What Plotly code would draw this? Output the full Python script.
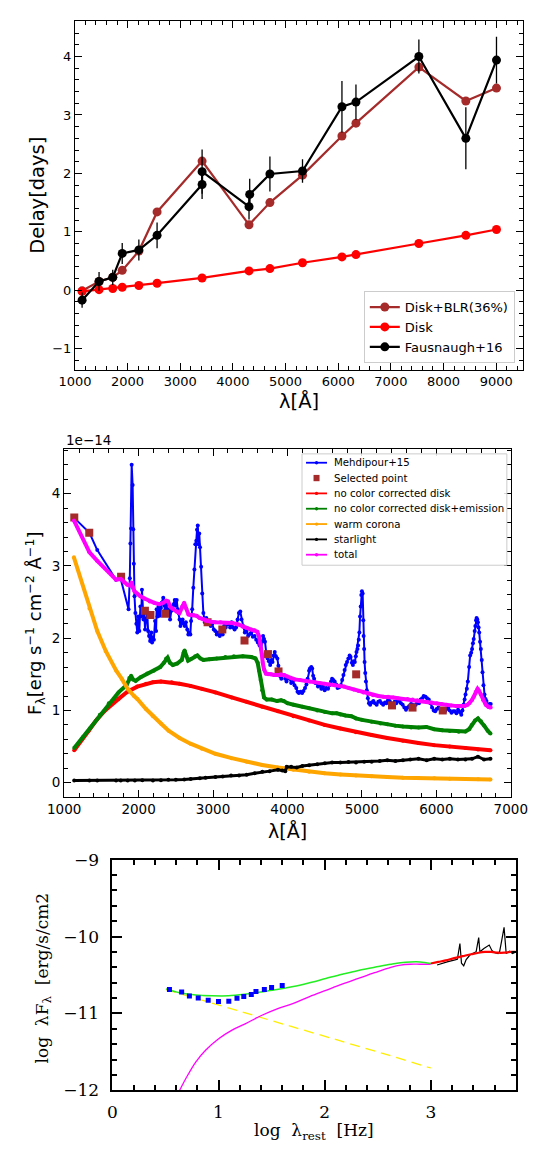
import plotly.graph_objects as go

W, H = 544, 1156

# ---------------- Panel 1: delays ----------------
lam_model = [1136, 1458, 1718, 1898, 2214, 2560, 3415, 4306, 4703, 5322, 6071, 6337, 7532, 8424, 9006]
delay_blr = [-0.01, 0.15, 0.22, 0.34, 0.67, 1.34, 2.21, 1.12, 1.50, 1.97, 2.64, 2.86, 3.82, 3.24, 3.46]
delay_disk = [-0.02, 0.01, 0.03, 0.05, 0.08, 0.12, 0.21, 0.33, 0.37, 0.47, 0.57, 0.61, 0.80, 0.94, 1.04]
lam_obs = [1136, 1458, 1718, 1898, 2214, 2560, 3415, 3415, 4306, 4319, 4703, 5322, 6071, 6337, 7532, 8424, 9006]
delay_obs = [-0.17, 0.15, 0.22, 0.63, 0.69, 0.94, 1.81, 2.03, 1.43, 1.64, 1.99, 2.04, 3.14, 3.22, 4.00, 2.60, 3.94]
delay_err = [0.13, 0.16, 0.13, 0.18, 0.18, 0.22, 0.25, 0.38, 0.22, 0.27, 0.30, 0.20, 0.44, 0.30, 0.29, 0.53, 0.40]

# ---------------- Panel 2: spectrum (units of 1e-14) ----------------
meh_x = [1131, 1340, 1445, 1697, 1760, 1865, 1882, 1890, 1899, 1907, 1920, 1928, 1936, 1945, 1957, 1970, 1982,
         1995, 2010, 2024, 2035, 2045, 2056, 2066, 2076, 2087, 2100, 2116, 2128, 2141, 2155, 2171, 2181, 2192,
         2205, 2221, 2235, 2242, 2255, 2268, 2284, 2300, 2310, 2331, 2345, 2360, 2375, 2394, 2410, 2423, 2440,
         2453, 2470, 2486, 2500, 2512, 2525, 2537, 2550, 2562, 2575, 2591, 2605, 2621, 2635, 2654, 2668, 2680,
         2695, 2705, 2720, 2735, 2750, 2762, 2775, 2785, 2795, 2805, 2815, 2825, 2840, 2855, 2870, 2890, 2910,
         2930, 2950, 2970, 2990, 3010, 3030, 3050, 3070, 3090, 3110, 3130, 3150, 3170, 3190, 3210, 3230, 3250,
         3270, 3290, 3310, 3330, 3348, 3366, 3383, 3405, 3427, 3450, 3471, 3495, 3514, 3535, 3558, 3580, 3602,
         3625, 3646, 3660, 3672, 3685, 3698, 3715, 3733, 3750, 3768, 3785, 3799, 3815, 3829, 3845, 3864, 3878,
         3891, 3905, 3917, 3935, 3952, 3970, 3987, 4010, 4031, 4050, 4074, 4095, 4118, 4135, 4153, 4175, 4197,
         4215, 4236, 4255, 4271, 4290, 4302, 4320, 4332, 4345, 4358, 4375, 4389, 4410, 4433, 4455, 4477, 4500,
         4520, 4545, 4564, 4585, 4599, 4615, 4634, 4655, 4673, 4695, 4717, 4735, 4752, 4768, 4783, 4800, 4818,
         4835, 4848, 4865, 4879, 4892, 4905, 4918, 4927, 4940, 4949, 4958, 4966, 4975, 4984, 4992, 5000, 5010,
         5018, 5023, 5030, 5036, 5045, 5054, 5065, 5080, 5095, 5111, 5130, 5154, 5175, 5198, 5220, 5242, 5265,
         5286, 5310, 5329, 5350, 5373, 5395, 5417, 5440, 5461, 5480, 5504, 5525, 5548, 5570, 5592, 5615, 5636,
         5660, 5679, 5700, 5723, 5745, 5767, 5790, 5810, 5830, 5854, 5875, 5898, 5920, 5942, 5965, 5985, 6005,
         6029, 6050, 6073, 6095, 6117, 6140, 6160, 6180, 6204, 6225, 6248, 6270, 6292, 6315, 6335, 6350, 6366,
         6380, 6392, 6410, 6423, 6440, 6454, 6468, 6480, 6492, 6502, 6515, 6524, 6533, 6541, 6550, 6559, 6568,
         6576, 6587, 6598, 6610, 6620, 6633, 6647, 6660, 6673, 6686, 6699, 6715, 6730]
meh_y = [3.67, 3.46, 3.22, 2.81, 2.82, 2.40, 2.83, 3.31, 3.52, 4.40, 4.12, 3.51, 3.03, 2.58, 2.35, 2.20, 2.08,
         2.30, 2.10, 2.44, 2.30, 2.67, 2.40, 2.26, 2.35, 2.12, 2.25, 2.35, 2.10, 2.03, 1.96, 2.08, 1.94, 2.01,
         1.98, 2.24, 2.10, 2.40, 2.30, 2.44, 2.31, 2.42, 2.49, 2.56, 2.45, 2.40, 2.47, 2.35, 2.40, 2.26, 2.38,
         2.42, 2.47, 2.53, 2.45, 2.53, 2.40, 2.35, 2.26, 2.17, 2.22, 2.26, 2.20, 2.17, 2.22, 2.12, 2.05, 2.08,
         2.05, 2.24, 2.40, 2.70, 2.95, 3.30, 3.35, 3.50, 3.56, 3.30, 3.45, 3.26, 2.99, 2.62, 2.35, 2.22, 2.28,
         2.20, 2.24, 2.17, 2.20, 2.12, 2.10, 2.05, 2.08, 2.03, 2.12, 2.05, 2.17, 2.15, 2.19, 2.20, 2.15, 2.22,
         2.15, 2.12, 2.15, 2.26, 2.35, 2.37, 2.26, 2.17, 2.08, 2.10, 2.03, 2.06, 2.08, 2.02, 2.03, 1.98, 1.94,
         1.90, 1.85, 1.95, 2.03, 1.99, 1.95, 1.80, 1.72, 1.68, 1.63, 1.70, 1.67, 1.76, 1.81, 1.75, 1.72, 1.62,
         1.53, 1.47, 1.44, 1.49, 1.49, 1.44, 1.40, 1.45, 1.44, 1.38, 1.40, 1.35, 1.31, 1.26, 1.24, 1.26, 1.24,
         1.27, 1.31, 1.36, 1.44, 1.55, 1.58, 1.60, 1.58, 1.48, 1.44, 1.38, 1.38, 1.33, 1.35, 1.30, 1.33, 1.28,
         1.31, 1.30, 1.35, 1.40, 1.44, 1.42, 1.40, 1.36, 1.31, 1.32, 1.35, 1.42, 1.49, 1.56, 1.63, 1.67, 1.72,
         1.76, 1.74, 1.66, 1.63, 1.68, 1.67, 1.75, 1.81, 1.85, 1.90, 1.98, 2.08, 2.30, 2.44, 2.60, 2.65, 2.62,
         2.25, 2.03, 1.85, 1.67, 1.52, 1.40, 1.28, 1.17, 1.10, 1.08, 1.11, 1.13, 1.10, 1.08, 1.12, 1.13, 1.10,
         1.08, 1.11, 1.10, 1.14, 1.13, 1.10, 1.08, 1.12, 1.10, 1.13, 1.13, 1.10, 1.08, 1.04, 1.01, 1.04, 1.06,
         1.09, 1.08, 1.06, 1.08, 1.11, 1.10, 1.15, 1.17, 1.20, 1.19, 1.17, 1.15, 1.10, 1.04, 1.00, 0.99, 1.02,
         1.04, 1.02, 1.01, 1.00, 0.99, 1.02, 1.04, 1.00, 0.97, 0.99, 0.99, 0.96, 1.01, 0.98, 0.94, 1.00, 1.08,
         1.15, 1.22, 1.30, 1.40, 1.60, 1.76, 1.80, 1.85, 1.93, 1.99, 2.10, 2.17, 2.25, 2.28, 2.26, 2.22, 2.15,
         2.08, 1.95, 1.85, 1.70, 1.53, 1.35, 1.22, 1.16, 1.13, 1.08, 1.07, 1.09, 1.09]

sel_x = [1136, 1337, 1765, 2085, 2159, 2356, 2927, 3125, 3423, 3738, 3880, 4923, 5404, 5680, 6086]
sel_y = [3.67, 3.46, 2.85, 2.38, 2.32, 2.34, 2.22, 2.12, 1.97, 1.78, 1.54, 1.50, 1.07, 1.04, 1.00]

disk_x = [1135, 1250, 1330, 1436, 1550, 1731, 1850, 1983, 2100, 2193, 2300, 2445, 2550, 2697, 2850, 3032,
          3250, 3452, 3660, 3872, 4080, 4292, 4500, 4711, 4920, 5131, 5340, 5551, 5760, 5971, 6180, 6391,
          6560, 6727]
disk_y = [0.45, 0.62, 0.72, 0.87, 1.00, 1.16, 1.26, 1.33, 1.37, 1.39, 1.40, 1.39, 1.37, 1.34, 1.30, 1.25,
          1.18, 1.12, 1.05, 0.99, 0.92, 0.86, 0.80, 0.75, 0.70, 0.66, 0.62, 0.58, 0.55, 0.52, 0.50, 0.48,
          0.46, 0.45]

dem_x = [1135, 1250, 1353, 1479, 1600, 1731, 1836, 1875, 1900, 1925, 1960, 2028, 2115, 2203, 2290, 2340,
         2370, 2390, 2420, 2460, 2520, 2580, 2605, 2618, 2640, 2665, 2700, 2760, 2790, 2830, 2870, 2950,
         3050, 3165, 3280, 3400, 3514, 3570, 3600, 3620, 3640, 3660, 3685, 3720, 3788, 3860, 3914, 3950,
         4000, 4082, 4200, 4292, 4400, 4502, 4600, 4660, 4711, 4780, 4858, 4921, 5000, 5131, 5250, 5341,
         5450, 5551, 5661, 5761, 5866, 5971, 6080, 6181, 6300, 6391, 6440, 6475, 6520, 6559, 6600, 6643,
         6690, 6727]
dem_y = [0.48, 0.63, 0.76, 0.94, 1.10, 1.25, 1.35, 1.45, 1.48, 1.43, 1.41, 1.46, 1.51, 1.55, 1.60, 1.66,
         1.72, 1.73, 1.66, 1.63, 1.65, 1.70, 1.80, 1.83, 1.76, 1.69, 1.71, 1.75, 1.76, 1.72, 1.70, 1.71,
         1.72, 1.74, 1.75, 1.75, 1.74, 1.72, 1.66, 1.55, 1.42, 1.28, 1.18, 1.15, 1.15, 1.13, 1.14, 1.13,
         1.10, 1.08, 1.05, 1.03, 1.00, 0.98, 0.96, 0.96, 0.945, 0.93, 0.92, 0.89, 0.87, 0.845, 0.82, 0.81,
         0.79, 0.777, 0.765, 0.763, 0.772, 0.74, 0.725, 0.717, 0.705, 0.708, 0.74, 0.80, 0.86, 0.89, 0.85,
         0.79, 0.72, 0.68]

cor_x = [1131, 1340, 1445, 1560, 1700, 1773, 1853, 1940, 1983, 2100, 2193, 2300, 2403, 2550, 2697, 2850,
         3032, 3250, 3452, 3660, 3872, 4080, 4292, 4500, 4711, 4920, 5131, 5340, 5551, 5760, 5971, 6180,
         6391, 6560, 6727]
cor_y = [3.12, 2.41, 2.10, 1.82, 1.55, 1.44, 1.30, 1.20, 1.16, 1.02, 0.92, 0.82, 0.72, 0.62, 0.54, 0.47,
         0.40, 0.34, 0.29, 0.245, 0.21, 0.18, 0.15, 0.13, 0.115, 0.10, 0.09, 0.08, 0.07, 0.065, 0.06, 0.055,
         0.05, 0.048, 0.045]

star_x = [1135, 1340, 1445, 1697, 1760, 1853, 1950, 2050, 2193, 2300, 2400, 2500, 2613, 2700, 2823, 2900,
          3032, 3130, 3242, 3350, 3452, 3560, 3662, 3760, 3872, 3930, 3970, 3990, 4050, 4124, 4200, 4292,
          4400, 4502, 4600, 4711, 4820, 4921, 5031, 5131, 5240, 5341, 5450, 5551, 5650, 5761, 5870, 5971,
          6080, 6181, 6290, 6391, 6480, 6559, 6640, 6727]
star_y = [0.03, 0.03, 0.03, 0.03, 0.03, 0.03, 0.03, 0.035, 0.03, 0.035, 0.04, 0.04, 0.045, 0.05, 0.06, 0.07,
          0.08, 0.085, 0.10, 0.10, 0.11, 0.13, 0.15, 0.16, 0.18, 0.17, 0.16, 0.22, 0.22, 0.21, 0.23, 0.24,
          0.255, 0.27, 0.28, 0.28, 0.285, 0.28, 0.29, 0.29, 0.30, 0.31, 0.30, 0.31, 0.32, 0.33, 0.31, 0.33,
          0.32, 0.33, 0.32, 0.32, 0.33, 0.36, 0.32, 0.33]

tot_x = [1131, 1340, 1445, 1697, 1760, 1800, 1850, 1880, 1905, 1925, 1945, 1980, 2024, 2080, 2150, 2210,
         2276, 2330, 2370, 2395, 2430, 2465, 2510, 2549, 2585, 2612, 2640, 2670, 2700, 2740, 2780, 2820,
         2870, 2906, 2960, 3030, 3100, 3180, 3260, 3340, 3400, 3460, 3514, 3560, 3595, 3620, 3640, 3655,
         3668, 3685, 3711, 3740, 3777, 3820, 3864, 3910, 3952, 4000, 4039, 4100, 4170, 4240, 4302, 4370,
         4433, 4500, 4564, 4630, 4695, 4760, 4826, 4890, 4958, 5020, 5089, 5150, 5220, 5290, 5351, 5420,
         5482, 5550, 5613, 5680, 5745, 5810, 5876, 5940, 6007, 6070, 6138, 6200, 6270, 6330, 6379, 6420,
         6445, 6475, 6502, 6530, 6554, 6575, 6598, 6630, 6664, 6700, 6730]
tot_y = [3.63, 3.19, 3.07, 2.81, 2.82, 2.78, 2.74, 2.73, 2.77, 2.70, 2.65, 2.62, 2.58, 2.55, 2.51, 2.49,
         2.47, 2.49, 2.52, 2.51, 2.43, 2.40, 2.37, 2.35, 2.44, 2.49, 2.41, 2.33, 2.32, 2.32, 2.31, 2.28,
         2.26, 2.24, 2.23, 2.22, 2.22, 2.21, 2.21, 2.19, 2.16, 2.14, 2.12, 2.11, 2.09, 2.02, 1.92, 1.78,
         1.66, 1.57, 1.51, 1.50, 1.50, 1.49, 1.49, 1.50, 1.49, 1.47, 1.45, 1.43, 1.42, 1.41, 1.40, 1.39,
         1.38, 1.37, 1.36, 1.35, 1.34, 1.33, 1.31, 1.29, 1.27, 1.25, 1.23, 1.21, 1.20, 1.19, 1.19, 1.18,
         1.17, 1.16, 1.16, 1.15, 1.14, 1.13, 1.12, 1.11, 1.10, 1.09, 1.08, 1.07, 1.06, 1.06, 1.06, 1.08,
         1.10, 1.14, 1.19, 1.26, 1.30, 1.27, 1.22, 1.14, 1.08, 1.05, 1.04]

# legend of panel 2 (labels, colours, kinds)
leg2_labels = ["Mehdipour+15", "Selected point", "no color corrected disk", "no color corrected disk+emission",
               "warm corona", "starlight", "total"]
leg2_colors = ["#0000ff", "#a52a2a", "#ff0000", "#008000", "#ffa500", "black", "#ff00ff"]
leg2_kinds = ["line", "square", "line", "line", "line", "line", "line"]

# ---------------- Panel 3: SED ----------------
pts_x = [0.538, 0.653, 0.726, 0.809, 0.903, 1.000, 1.097, 1.174, 1.238, 1.309, 1.353, 1.432, 1.500, 1.600]
pts_y = [-10.688, -10.721, -10.773, -10.798, -10.828, -10.845, -10.841, -10.803, -10.781, -10.752, -10.714,
         -10.688, -10.662, -10.637]
grn_x = [0.505, 0.634, 0.787, 0.940, 1.093, 1.246, 1.399, 1.552, 1.705, 1.858, 2.011, 2.164, 2.317, 2.470,
         2.623, 2.715, 2.807, 2.899, 3.000]
grn_y = [-10.68, -10.73, -10.76, -10.77, -10.77, -10.75, -10.72, -10.69, -10.65, -10.60, -10.545, -10.49,
         -10.44, -10.40, -10.36, -10.34, -10.33, -10.33, -10.35]
mag_x = [0.634, 0.695, 0.787, 0.878, 1.001, 1.123, 1.246, 1.399, 1.552, 1.705, 1.858, 2.011, 2.164, 2.317,
         2.470, 2.623, 2.715, 2.807, 2.899, 3.000]
mag_y = [-12.0, -11.84, -11.63, -11.48, -11.33, -11.22, -11.14, -11.03, -10.94, -10.87, -10.78, -10.70,
         -10.62, -10.545, -10.47, -10.40, -10.37, -10.36, -10.36, -10.36]
yel_x = [0.505, 1.0, 1.5, 2.0, 2.5, 3.0]
yel_y = [-10.69, -10.89, -11.10, -11.30, -11.50, -11.71]
red3_x = [3.00, 3.07, 3.14, 3.22, 3.30, 3.38, 3.45, 3.51, 3.57, 3.63, 3.69, 3.75, 3.80]
red3_y = [-10.35, -10.33, -10.31, -10.28, -10.255, -10.23, -10.21, -10.20, -10.20, -10.21, -10.21, -10.20, -10.20]
spec_x = [3.059, 3.10, 3.162, 3.21, 3.25, 3.274, 3.289, 3.31, 3.333, 3.368, 3.398, 3.427, 3.451, 3.462,
          3.50, 3.53, 3.55, 3.575, 3.604, 3.633, 3.648, 3.668, 3.69, 3.71, 3.74, 3.77, 3.80]
spec_y = [-10.37, -10.35, -10.325, -10.31, -10.295, -10.09, -10.347, -10.38, -10.30, -10.24, -10.22, -10.197,
          -10.014, -10.197, -10.155, -10.13, -10.11, -10.18, -10.21, -10.22, -10.197, -10.05, -9.88, -10.22,
          -10.19, -10.22, -10.20]

fig = go.Figure()

# Panel 1 traces
fig.add_trace(go.Scatter(x=lam_model, y=delay_blr, mode="lines+markers", name="Disk+BLR(36%)",
                         line=dict(color="#a52a2a", width=2.2), marker=dict(size=9, color="#a52a2a"),
                         xaxis="x", yaxis="y", legend="legend"))
fig.add_trace(go.Scatter(x=lam_model, y=delay_disk, mode="lines+markers", name="Disk",
                         line=dict(color="#ff0000", width=2.2), marker=dict(size=9, color="#ff0000"),
                         xaxis="x", yaxis="y", legend="legend"))
fig.add_trace(go.Scatter(x=lam_obs, y=delay_obs, mode="lines+markers", name="Fausnaugh+16",
                         line=dict(color="black", width=2.2), marker=dict(size=9, color="black"),
                         error_y=dict(type="data", array=delay_err, color="black", thickness=1.3, width=0),
                         xaxis="x", yaxis="y", legend="legend"))

# Panel 2 traces
p2 = dict(xaxis="x2", yaxis="y2", showlegend=False)
fig.add_trace(go.Scatter(x=meh_x, y=meh_y, mode="lines+markers", name="Mehdipour+15",
                         line=dict(color="#0000ff", width=2), marker=dict(size=4, color="#0000ff"), **p2))
fig.add_trace(go.Scatter(x=sel_x, y=sel_y, mode="markers", name="Selected point",
                         marker=dict(size=8, symbol="square", color="#a52a2a"), **p2))
fig.add_trace(go.Scatter(x=disk_x, y=disk_y, mode="lines+markers", name="no color corrected disk",
                         line=dict(color="#ff0000", width=4), marker=dict(size=4, color="#ff0000"), **p2))
fig.add_trace(go.Scatter(x=dem_x, y=dem_y, mode="lines+markers", name="no color corrected disk+emission",
                         line=dict(color="#008000", width=4), marker=dict(size=4, color="#008000"), **p2))
fig.add_trace(go.Scatter(x=cor_x, y=cor_y, mode="lines+markers", name="warm corona",
                         line=dict(color="#ffa500", width=4), marker=dict(size=4, color="#ffa500"), **p2))
fig.add_trace(go.Scatter(x=star_x, y=star_y, mode="lines+markers", name="starlight",
                         line=dict(color="black", width=3), marker=dict(size=4, color="black"), **p2))
fig.add_trace(go.Scatter(x=tot_x, y=tot_y, mode="lines+markers", name="total",
                         line=dict(color="#ff00ff", width=4), marker=dict(size=4, color="#ff00ff"), **p2))

# Panel 3 traces
p3 = dict(xaxis="x3", yaxis="y3", showlegend=False)
fig.add_trace(go.Scatter(x=yel_x, y=yel_y, mode="lines", line=dict(color="#ffee00", width=1.3, dash="10px,6px"), **p3))
fig.add_trace(go.Scatter(x=mag_x, y=mag_y, mode="lines", line=dict(color="#ff00ff", width=1.3, shape="spline"), **p3))
fig.add_trace(go.Scatter(x=grn_x, y=grn_y, mode="lines", line=dict(color="#22ee22", width=1.5, shape="spline"), **p3))
fig.add_trace(go.Scatter(x=spec_x, y=spec_y, mode="lines", line=dict(color="black", width=1.2), **p3))
fig.add_trace(go.Scatter(x=red3_x, y=red3_y, mode="lines", line=dict(color="#ff0000", width=2.2, shape="spline"), **p3))
fig.add_trace(go.Scatter(x=pts_x, y=pts_y, mode="markers", marker=dict(symbol="square", size=5, color="#0000ff"), **p3))


def ax(domain, rng, dtick, tick0, mdtick, font, anchor, lw=1, tl=7, ml=4, standoff=None):
    d = dict(domain=domain, range=rng, dtick=dtick, tick0=tick0, anchor=anchor,
             showline=True, linecolor="black", linewidth=lw, mirror="allticks",
             ticks="inside", ticklen=tl, tickwidth=lw, tickcolor="black",
             showgrid=False, zeroline=False, tickfont=font,
             minor=dict(ticks="inside", ticklen=ml, tickwidth=lw, tickcolor="black",
                        dtick=mdtick, tick0=tick0, showgrid=False))
    if standoff is not None:
        d["ticklabelstandoff"] = standoff
    return d


sans = "DejaVu Sans"
serif = "DejaVu Serif"
f1 = dict(family=sans, size=13, color="black")
f2 = dict(family=sans, size=13.5, color="black")
f3 = dict(family=serif, size=17, color="black")

fig.update_layout(
    width=W, height=H, margin=dict(l=0, r=0, t=0, b=0),
    paper_bgcolor="white", plot_bgcolor="white", showlegend=True,
    xaxis=ax([61.8 / W, 539.2 / W], [1000, 9500], 1000, 1000, 200, f1, "y"),
    yaxis=ax([1 - 366 / H, 1 - 11.7 / H], [-1.36, 4.6], 1, 0, 0.2, f1, "x"),
    xaxis2=ax([50.3 / W, 526.7 / W], [1000, 7000], 1000, 1000, 200, f2, "y2"),
    yaxis2=ax([1 - 801 / H, 1 - 446.7 / H], [-0.2, 4.62], 1, 0, 0.2, f2, "x2"),
    xaxis3=ax([101.7 / W, 532 / W], [0, 3.8], 1, 0, 0.2, f3, "y3", lw=1.6, tl=10, ml=5, standoff=6),
    yaxis3=ax([1 - 1099.3 / H, 1 - 864.7 / H], [-12, -9], 1, -12, 0.2, f3, "x3", lw=1.6, tl=10, ml=5, standoff=8),
    legend=dict(x=531 / W, xanchor="right", y=1 - 359.3 / H, yanchor="bottom",
                bgcolor="rgba(255,255,255,0.85)", bordercolor="#cccccc", borderwidth=1,
                font=dict(family=sans, size=13, color="black"), tracegroupgap=0),
)

# Manual legend for panel 2 (matplotlib-like compact rows)
shapes = []
ann = []
bx0, bx1, by0, by1 = 304, 522.5, 451.7, 565
shapes.append(dict(type="rect", xref="paper", yref="paper", x0=bx0 / W, x1=bx1 / W, y0=1 - by1 / H, y1=1 - by0 / H,
                   line=dict(color="#cccccc", width=1), fillcolor="rgba(255,255,255,0.85)", layer="above"))
row0, drow = 460.7, 15.6
for i, (lab, col, kind) in enumerate(zip(leg2_labels, leg2_colors, leg2_kinds)):
    yy = row0 + i * drow
    if kind == "line":
        shapes.append(dict(type="line", xref="paper", yref="paper", x0=308.3 / W, x1=330.7 / W,
                           y0=1 - yy / H, y1=1 - yy / H, line=dict(color=col, width=1.8), layer="above"))
        r = 1.7
        shapes.append(dict(type="circle", xref="paper", yref="paper", x0=(319.5 - r) / W, x1=(319.5 + r) / W,
                           y0=1 - (yy + r) / H, y1=1 - (yy - r) / H, line=dict(color=col, width=0),
                           fillcolor=col, layer="above"))
    else:
        r = 3.2
        shapes.append(dict(type="rect", xref="paper", yref="paper", x0=(319.5 - r) / W, x1=(319.5 + r) / W,
                           y0=1 - (yy + r) / H, y1=1 - (yy - r) / H, line=dict(color=col, width=0),
                           fillcolor=col, layer="above"))
    ann.append(dict(text=lab, x=337.5 / W, y=1 - yy / H, xanchor="left", yanchor="middle", borderpad=0,
                    font=dict(family=sans, size=10.2)))

ann += [
    dict(text="Delay[days]", x=21.5 / W, y=1 - 188.9 / H, textangle=-90, font=dict(family=sans, size=19.5)),
    dict(text="λ[Å]", x=300.5 / W, y=1 - 398 / H, font=dict(family=sans, size=19.5)),
    dict(text="1e−14", x=50.3 / W, y=1 - 438 / H, xanchor="left", font=dict(family=sans, size=13.5)),
    dict(text="F<sub>λ</sub>[erg s<sup>−1</sup> cm<sup>−2</sup> Å<sup>−1</sup>]", x=19 / W, y=1 - 624 / H,
         textangle=-90, font=dict(family=sans, size=18)),
    dict(text="λ[Å]", x=288.5 / W, y=1 - 835 / H, font=dict(family=sans, size=19)),
    dict(text="log\u00a0\u00a0λF<sub>λ</sub>\u00a0\u00a0[erg/s/cm2", x=28.3 / W, y=1 - 985 / H, textangle=-90,
         font=dict(family=serif, size=17)),
    dict(text="log\u00a0\u00a0λ<sub>rest</sub>\u00a0\u00a0[Hz]", x=317 / W, y=1 - 1141 / H,
         font=dict(family=serif, size=17)),
]
for a in ann:
    a.update(xref="paper", yref="paper", showarrow=False)
    a.setdefault("xanchor", "center")
    a.setdefault("yanchor", "middle")
    a["font"].setdefault("color", "black")
fig.update_layout(annotations=ann, shapes=shapes)

fig.write_html("out.html")
